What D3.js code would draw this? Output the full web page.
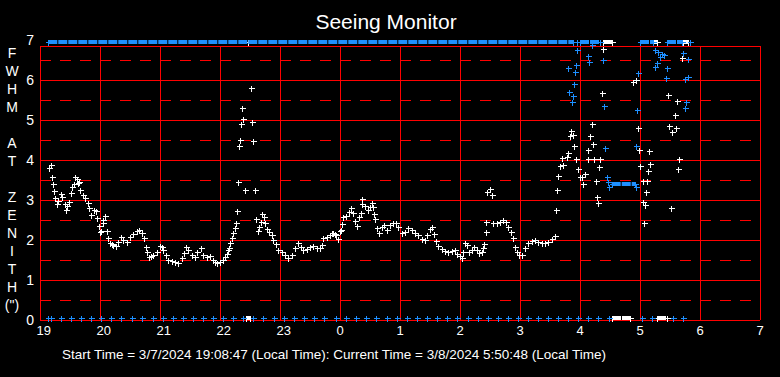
<!DOCTYPE html>
<html>
<head>
<meta charset="utf-8">
<script src="https://cdn.jsdelivr.net/npm/d3@7"></script>
<style>
  body { margin: 0; background: #000; }
  svg { display: block; }
  text { font-family: "Liberation Sans", Arial, sans-serif; fill: #fff; }
</style>
</head>
<body>
<div id="chart"></div>
<script>
// times are minutes after 19:00 local, values are FWHM in arcsec
var hourLabels = ["19","20","21","22","23","0","1","2","3","4","5","6","7"];
var fwhmTicks = [0, 1, 2, 3, 4, 5, 6, 7];
var axisTitle = ["F","W","H","M","","A","T","","Z","E","N","I","T","H","(\")"];
var startTime = "3/7/2024 19:08:47";
var currentTime = "3/8/2024 5:50:48";

// white series
var whitePts = [
  [9,3.79],[11.3,3.87],[12.3,3.57],[13.3,3.39],[14.3,3.23],[15.3,3.04],[16.7,2.89],[18,2.97],[21,3.15],[22.3,3.08],
  [24.7,2.89],[26,2.75],[27.3,2.85],[29.3,2.95],[30.5,3.17],[32,3.33],[33.7,3.39],[35.3,3.57],[36.7,3.52],[38.3,3.43],
  [39,3.46],[40,3.25],[42.5,3.12],[45,3.04],[47.5,2.93],[49.3,2.79],[50.7,2.62],[54,2.75],[56,2.72],[57.3,2.54],
  [59,2.35],[60,2.21],[61,2.23],[62.7,2.5],[63.3,2.42],[65,2.6],[67,2.23],[68.3,2.04],[70,1.93],[71.5,1.9],
  [73.3,1.87],[76,1.85],[78.3,1.96],[80.7,2.08],[83.3,2],[86.7,1.96],[90,2.08],[93.3,2.15],[96.7,2.23],[99.3,2.25],
  [101.7,2.17],[104,2.04],[106,1.83],[107.3,1.71],[109.3,1.58],[111,1.6],[113.3,1.62],[116.7,1.71],[120,1.85],[121.7,1.83],
  [123.3,1.75],[126,1.62],[128.3,1.5],[131.7,1.48],[135,1.46],[138.3,1.42],[141.7,1.54],[144,1.67],[146,1.83],[148.3,1.75],
  [151.7,1.62],[155,1.58],[157.3,1.71],[160.7,1.79],[163.3,1.62],[166.7,1.58],[170,1.6],[172.7,1.5],[175,1.46],[176.7,1.43],
  [180,1.46],[183.3,1.5],[185,1.58],[186.7,1.65],[187.7,1.75],[189.3,1.8],[190,1.92],[191.7,2.04],[193.3,2.17],[195,2.29],
  [196.3,2.42],[197.3,2.73],[198.3,3.44],[199.3,4.34],[200.3,4.49],[201.3,4.89],[202.3,5.29],[203.3,5.02],[205.3,3.24],[211.3,5.79],
  [212.3,4.94],[213.3,4.47],[215.3,3.24],[216.3,2.52],[217.7,2.23],[219,2.32],[221,2.46],[222.3,2.65],[223.7,2.58],[225,2.42],
  [226.7,2.27],[229,2.21],[231.7,2.13],[233.3,2],[235.7,1.9],[238.3,1.75],[241.7,1.71],[245,1.62],[248.3,1.54],[251.7,1.62],
  [255,1.79],[258.3,1.92],[261,1.83],[263.3,1.75],[266.7,1.77],[270,1.82],[273.3,1.85],[276.7,1.79],[280,1.8],[281.7,1.87],
  [283.3,2.05],[286.7,2.08],[290,2.12],[291.7,2.17],[293.3,2.18],[295,2.15],[296,2.12],[298.3,2.03],[300,2.23],[301,2.25],
  [301.7,2.4],[303.3,2.57],[306,2.6],[309.3,2.71],[311.3,2.79],[313.3,2.67],[315,2.48],[317.3,2.35],[319.3,2.57],[320.7,2.67],
  [321.7,2.9],[322.3,3.02],[325,2.85],[328.3,2.75],[330,2.83],[331.7,2.93],[333.3,2.83],[334.3,2.64],[335.3,2.52],[337.3,2.29],
  [339.3,2.18],[341.7,2.33],[344,2.37],[346.7,2.25],[350,2.37],[352.7,2.42],[356,2.42],[358.3,2.33],[361.7,2.17],[365,2.21],
  [368.3,2.29],[371.7,2.25],[375,2.17],[378.3,2.12],[381.7,2.02],[385,2],[387.3,2.12],[390,2.27],[392.3,2.33],[394,2.15],
  [396,1.98],[398.3,1.85],[401.7,1.77],[405,1.73],[408.3,1.71],[411.7,1.73],[415,1.75],[417.3,1.65],[420,1.6],[421.7,1.54],
  [423.3,1.71],[425,1.92],[427.3,1.87],[429.3,1.71],[431.7,1.75],[434,1.83],[436.7,1.75],[439.3,1.68],[441.7,1.71],[443.3,1.79],
  [444.3,1.9],[445.7,2.19],[446.3,2.44],[447.3,3.21],[450,3.27],[452.3,3.12],[453.3,2.43],[456.7,2.42],[460,2.46],[463.3,2.5],
  [466,2.46],[468.3,2.33],[470.7,2.21],[473.3,2.04],[475,1.83],[476.7,1.71],[479.3,1.62],[481.7,1.62],[485,1.79],[488.3,1.92],
  [491.7,1.98],[495,2],[498.3,1.96],[501.7,1.92],[505,1.93],[508.3,1.96],[511.7,2.02],[515,2.1],[516.3,2.75],[517.3,3.25],
  [518.3,3.59],[520,3.85],[521.7,4.04],[523.3,3.87],[526.7,4.08],[528,4.18],[529.7,4.59],[531.3,4.73],[532.7,4.62],[534.3,4.34],
  [536,4.02],[538.3,3.77],[540,3.57],[541.7,3.58],[543.3,3.39],[545.3,3.64],[547.7,4.02],[548.3,4.24],[550,4.59],[552.3,4.89],
  [553.3,4.39],[554.3,4.02],[556,3.48],[557.3,3.07],[558.3,2.92],[559.3,3.82],[560.3,4.02],[562.3,5.67],[563.3,6.77],[593.3,5.94],
  [595.7,6],[596.7,5.25],[597.7,4.81],[599.3,4.24],[600.3,3.84],[603.3,3.47],[603.3,2.94],[604.3,2.42],[605.3,2.87],[606.3,3.2],
  [607.3,3.47],[608.3,3.72],[609.3,4.22],[610.3,3.89],[628.3,5.62],[629.3,4.84],[631.3,2.79],[631.7,4.71],[635.3,5.12],[636,4.81],
  [637.3,5.47],[638.3,3.77],[639.3,4.02],[641.7,6.54]
];
// white readings off the scale: [from, to] minutes
var whiteHighRuns = [[208,208],[563,572],[613,617],[643,648]];
var whiteLowRuns = [[206,210],[572,590],[617,627]];

// blue series
var bluePts = [
  [528.3,6.3],[529.3,5.69],[532,5.46],[533.3,5.59],[534.3,5.9],[535.3,6.19],[536.3,6.37],[537.3,6.75],[548.3,6.6],[549.3,6.45],
  [551.7,6.87],[563.3,6.5],[564.3,5.34],[565.3,4.29],[566.7,3.58],[568.3,3.46],[569.3,3.32],[596,3.32],[596.3,4.35],[596.7,5.25],
  [598.3,6.17],[615,6.75],[615.3,6.32],[616.7,6.42],[618.3,6.7],[620,6.58],[622.3,6.65],[624,6.62],[626.3,6.04],[627.3,6.29],
  [642.7,6.67],[645,6.02],[645.3,5.29],[646.3,5.44],[647.7,6.07],[648.3,6.53]
];
var blueLow = [8.3,10.7,20.7,31,41,51,61,71,81,91.7,101.7,112.7,122.7,132.7,142.7,152.7,162.7,172.7,183.3,193.3,
  203.3,213.3,223.3,234.3,244.3,254.3,264.3,274.3,284.3,296,306,316,326,336,346.7,356.7,366.7,376.7,386.7,396.7,
  406.7,416.7,427.7,437.7,447.7,457.7,467.7,477.7,488.3,498.3,508.3,518.3,528.3,538.3,548.3,558.3,569.3,601.7,611.7,633.3,643.3];
var blueHighRuns = [[8.3,533],[537,537],[540,560],[600,613],[627,642],[650,650]];
var blueFlatRuns = [[571.7,595,3.4]];

var W = 780, H = 377;
var margin = {left: 40, right: 20, top: 40, bottom: 57};
var white = "#ffffff", blue = "#1e8fff", red = "#ff0000";

var svg = d3.select("#chart").append("svg")
  .attr("width", W).attr("height", H)
  .style("background", "#000");

var x = d3.scaleLinear().domain([0, 720]).range([margin.left, W - margin.right]);
var y = d3.scaleLinear().domain([0, 7]).range([H - margin.bottom, margin.top]);
var frameTop = y(7) + 5.5;

// clipped values sit just inside the frame
function yc(v) { return y(Math.max(0.05, Math.min(6.95, v))); }
function px(v) { return Math.round(v) + 0.5; }

/*
 * grid
 */
var grid = svg.append("g").attr("stroke", red).attr("stroke-width", 1).attr("shape-rendering", "crispEdges");
grid.selectAll("line.h")
  .data(d3.range(1, 7))
  .enter().append("line")
    .attr("x1", x(0)).attr("x2", x(720))
    .attr("y1", d => px(y(d))).attr("y2", d => px(y(d)));
grid.selectAll("line.d")
  .data(d3.range(0.5, 7, 1))
  .enter().append("line")
    .attr("x1", x(0)).attr("x2", x(720))
    .attr("y1", d => px(y(d))).attr("y2", d => px(y(d)))
    .attr("stroke-dasharray", "11,9");
grid.selectAll("line.v")
  .data(d3.range(0, 721, 60))
  .enter().append("line")
    .attr("x1", d => px(x(d))).attr("x2", d => px(x(d)))
    .attr("y1", y(0)).attr("y2", frameTop);
grid.append("line").attr("x1", x(0)).attr("x2", x(720)).attr("y1", px(y(0))).attr("y2", px(y(0)));
grid.append("line").attr("x1", x(0)).attr("x2", x(720)).attr("y1", px(frameTop)).attr("y2", px(frameTop));

/*
 * marks
 */
var plus = "M-3,0H3M0,-3V3";
function pluses(data, color, fx, fy) {
  svg.append("g").selectAll("path")
    .data(data)
    .enter().append("path")
      .attr("d", plus)
      .attr("transform", d => "translate(" + px(x(fx(d))) + "," + px(yc(fy(d))) + ")")
      .attr("stroke", color)
      .attr("stroke-width", 1)
      .attr("fill", "none")
      .attr("shape-rendering", "crispEdges");
}
// long stretches of points stuck on one level
function runs(data, color, fv) {
  svg.append("g").selectAll("line")
    .data(data)
    .enter().append("line")
      .attr("x1", d => x(d[0])).attr("x2", d => x(d[1]))
      .attr("y1", d => yc(fv(d))).attr("y2", d => yc(fv(d)))
      .attr("stroke", color)
      .attr("stroke-width", 4)
      .attr("stroke-dasharray", "9,1");
  var ends = [];
  data.forEach(d => { ends.push([d[0], fv(d)]); ends.push([d[1], fv(d)]); });
  pluses(ends, color, d => d[0], d => d[1]);
}

runs(whiteHighRuns, white, d => 7);
runs(whiteLowRuns, white, d => 0);
pluses(whitePts, white, d => d[0], d => d[1]);

runs(blueHighRuns, blue, d => 7);
runs(blueFlatRuns, blue, d => d[2]);
pluses(blueLow, blue, d => d, d => 0);
pluses(bluePts, blue, d => d[0], d => d[1]);

/*
 * axes
 */
var xAxis = svg.append("g")
  .attr("transform", "translate(0," + y(0) + ")")
  .call(d3.axisBottom(x).tickValues(d3.range(0, 721, 60))
    .tickFormat((d, i) => hourLabels[i]).tickSize(0).tickPadding(6));
xAxis.select(".domain").remove();
xAxis.selectAll("text")
  .attr("fill", white).attr("text-anchor", "start").attr("dx", -4)
  .style("font-size", "13px").style("font-family", "Liberation Sans, Arial, sans-serif");

var yAxis = svg.append("g")
  .attr("transform", "translate(" + x(0) + ",0)")
  .call(d3.axisLeft(y).tickValues(fwhmTicks).tickFormat(d3.format("d")).tickSize(0).tickPadding(6));
yAxis.select(".domain").remove();
yAxis.selectAll("text")
  .attr("fill", white)
  .style("font-size", "14px").style("font-family", "Liberation Sans, Arial, sans-serif");

svg.append("g").selectAll("text")
  .data(axisTitle)
  .enter().append("text")
    .attr("x", 12)
    .attr("y", (d, i) => 58 + i * 18)
    .attr("text-anchor", "middle")
    .style("font-size", "14px")
    .text(d => d);

svg.append("text")
  .attr("x", 386).attr("y", 29)
  .attr("text-anchor", "middle")
  .style("font-size", "21px")
  .text("Seeing Monitor");

svg.append("text")
  .attr("x", 334).attr("y", 359)
  .attr("text-anchor", "middle")
  .style("font-size", "13.5px")
  .text("Start Time = " + startTime + " (Local Time): Current Time = " + currentTime + " (Local Time)");
</script>
</body>
</html>
